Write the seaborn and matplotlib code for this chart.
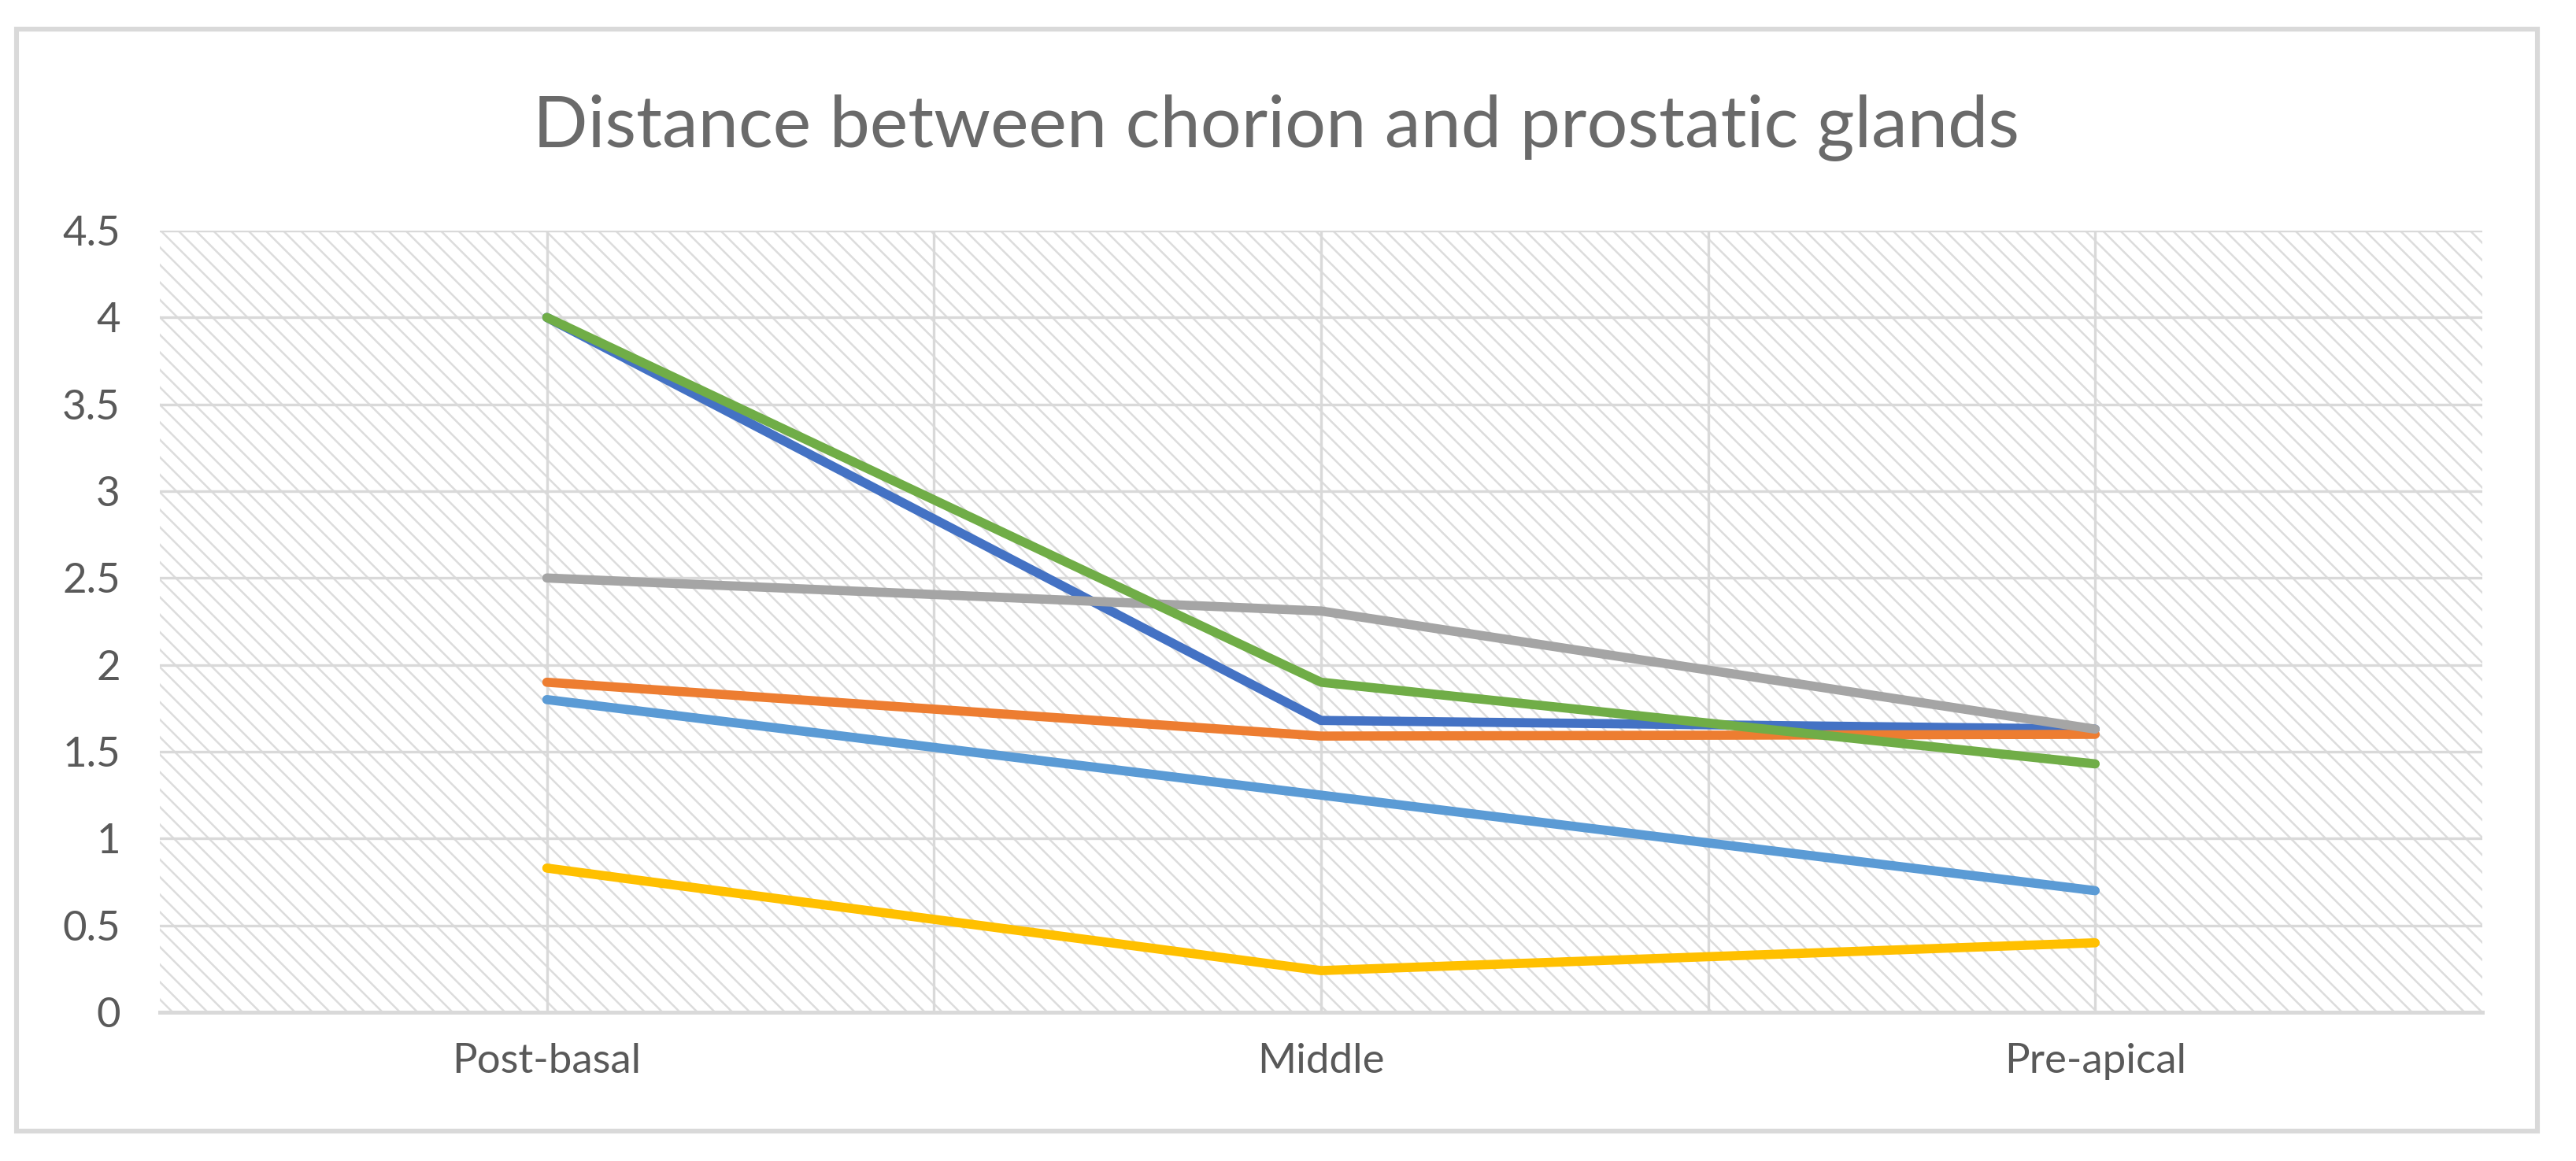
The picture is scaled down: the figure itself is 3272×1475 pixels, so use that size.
import matplotlib
matplotlib.use("Agg")
import matplotlib.pyplot as plt
from matplotlib.patches import Rectangle
import seaborn as sns
import pandas as pd

categories = ["Post-basal", "Middle", "Pre-apical"]
series_names = ["Series 1", "Series 2", "Series 3", "Series 4", "Series 5", "Series 6"]
series1 = [4.0, 1.68, 1.63]
series2 = [1.9, 1.59, 1.60]
series3 = [2.5, 2.31, 1.63]
series4 = [0.83, 0.24, 0.40]
series5 = [1.8, 1.25, 0.70]
series6 = [4.0, 1.90, 1.43]
colors = ["#4472C4", "#ED7D31", "#A5A5A5", "#FFC000", "#5B9BD5", "#70AD47"]
y_ticks = [0, 0.5, 1, 1.5, 2, 2.5, 3, 3.5, 4, 4.5]
y_labels = ["0", "0.5", "1", "1.5", "2", "2.5", "3", "3.5", "4", "4.5"]

rows = []
for name, vals in zip(series_names, [series1, series2, series3, series4, series5, series6]):
    for cat, v in zip(categories, vals):
        rows.append({"position": cat, "distance": v, "series": name})
data = pd.DataFrame(rows)

plt.rcParams["font.family"] = ["Lato", "DejaVu Sans"]
plt.rcParams["hatch.linewidth"] = 0.9

fig = plt.figure(figsize=(16.365, 7.375), dpi=200)
ax = fig.add_axes([0.0620, 0.1281, 0.9013, 0.6733])

# hatched plot area
ax.patch.set_facecolor("white")
ax.patch.set_edgecolor("#DCDCDC")
ax.patch.set_hatch("\\\\\\")

sns.lineplot(data=data, x="position", y="distance", hue="series", palette=colors,
             hue_order=series_names, sort=False, linewidth=4.2, legend=False, ax=ax,
             solid_capstyle="round", zorder=3)

ax.set_xlim(-0.5, 2.5)
ax.set_ylim(0, 4.5)
ax.set_xticks([0, 1, 2])
ax.set_xticklabels(categories)
ax.set_xticks([0.5, 1.5], minor=True)
ax.set_yticks(y_ticks)
ax.set_yticklabels(y_labels)
ax.grid(True, which="both", color="#D9D9D9", linewidth=1.2, zorder=1)
ax.set_axisbelow(True)
ax.tick_params(axis="both", which="both", length=0, colors="#595959", labelsize=19)
ax.tick_params(axis="x", pad=14)
ax.tick_params(axis="y", pad=18)
ax.set_xlabel("")
ax.set_ylabel("")

for side in ["top", "left", "right"]:
    ax.spines[side].set_visible(False)
ax.spines["bottom"].set_color("#D9D9D9")
ax.spines["bottom"].set_linewidth(1.8)

fig.text(0.4954, 0.8732, "Distance between chorion and prostatic glands",
         ha="center", va="baseline", fontsize=33, color="#6A6A6A")

# chart border
fig.patches.append(Rectangle((21 / 3273, 1 - 1437 / 1475), (3223 - 21) / 3273, (1437 - 37) / 1475,
                             transform=fig.transFigure, fill=False, edgecolor="#D9D9D9",
                             linewidth=2.2))

fig.savefig("out.png", dpi=200, facecolor="white")
